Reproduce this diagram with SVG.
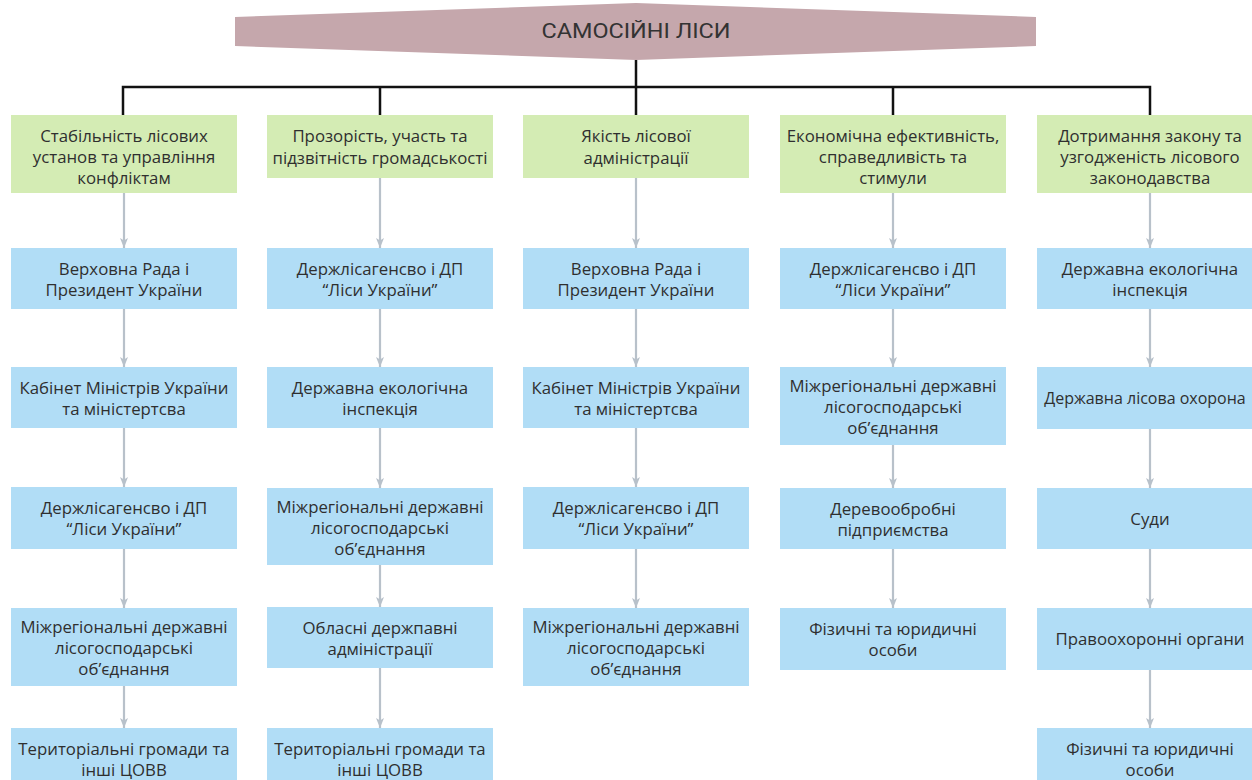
<svg xmlns="http://www.w3.org/2000/svg" width="1252" height="780" viewBox="0 0 1252 780">
<style>
.t{font-family:"Open Sans","DejaVu Sans",sans-serif;font-size:16.8px;fill:#2f2f2f;text-anchor:middle;dominant-baseline:central}
.g{fill:#d4ecb4}
.b{fill:#b1ddf6}
.tree{stroke:#111;stroke-width:2.5;fill:none}
.arr line{stroke:#b8c1ca;stroke-width:2.2;marker-end:url(#ah)}
</style>
<defs>
<marker id="ah" viewBox="0 0 10 8" refX="10" refY="4" markerWidth="10" markerHeight="8" markerUnits="userSpaceOnUse" orient="auto">
<path d="M0,0 L10,4 L0,8 L2.5,4 Z" fill="#b8c1ca"/>
</marker>
</defs>
<rect width="1252" height="780" fill="#fff"/>
<g id="root">
<polygon points="235,17 636,3 1036,17 1036,46 636,60 235,46" fill="#c5a7ac"/>
<text x="636" y="31" style="font-family:Roboto,'Liberation Sans',sans-serif;font-size:21px;fill:#333;text-anchor:middle;dominant-baseline:central" textLength="189" lengthAdjust="spacingAndGlyphs">САМОСІЙНІ ЛІСИ</text>
</g>
<g id="connectors">
<path class="tree" d="M636,60 V87 M123,115 V87 H1150 V115 M380,87 V115 M636,87 V115 M893,87 V115"/>
<g class="arr">
<line x1="124" y1="193" x2="124" y2="248"/>
<line x1="124" y1="309" x2="124" y2="367"/>
<line x1="124" y1="428" x2="124" y2="487"/>
<line x1="124" y1="549" x2="124" y2="608"/>
<line x1="124" y1="686" x2="124" y2="728"/>
<line x1="380" y1="178" x2="380" y2="248"/>
<line x1="380" y1="309" x2="380" y2="367"/>
<line x1="380" y1="428" x2="380" y2="488"/>
<line x1="380" y1="565" x2="380" y2="607"/>
<line x1="380" y1="668" x2="380" y2="728"/>
<line x1="636" y1="178" x2="636" y2="248"/>
<line x1="636" y1="309" x2="636" y2="367"/>
<line x1="636" y1="428" x2="636" y2="487"/>
<line x1="636" y1="549" x2="636" y2="608"/>
<line x1="893" y1="193" x2="893" y2="248"/>
<line x1="893" y1="309" x2="893" y2="367"/>
<line x1="893" y1="445" x2="893" y2="488"/>
<line x1="893" y1="549" x2="893" y2="608"/>
<line x1="1150" y1="193" x2="1150" y2="248"/>
<line x1="1150" y1="309" x2="1150" y2="367"/>
<line x1="1150" y1="429" x2="1150" y2="488"/>
<line x1="1150" y1="549" x2="1150" y2="608"/>
<line x1="1150" y1="670" x2="1150" y2="728"/>
</g>
</g>
<g id="h1"><rect class="g" x="11" y="115" width="226" height="78"/><text class="t"><tspan x="124" y="135">Стабільність лісових</tspan><tspan x="124" y="156">установ та управління</tspan><tspan x="124" y="177">конфліктам</tspan></text></g>
<g id="h2"><rect class="g" x="267" y="115" width="226" height="63"/><text class="t"><tspan x="380" y="135">Прозорість, участь та</tspan><tspan x="380" y="157">підзвітність громадськості</tspan></text></g>
<g id="h3"><rect class="g" x="523" y="115" width="226" height="63"/><text class="t"><tspan x="636" y="135">Якість лісової</tspan><tspan x="636" y="157">адміністрації</tspan></text></g>
<g id="h4"><rect class="g" x="780" y="115" width="226" height="78"/><text class="t"><tspan x="893" y="135">Економічна ефективність,</tspan><tspan x="893" y="156">справедливість та</tspan><tspan x="893" y="177">стимули</tspan></text></g>
<g id="h5"><rect class="g" x="1037" y="115" width="226" height="78"/><text class="t"><tspan x="1150" y="135">Дотримання закону та</tspan><tspan x="1150" y="156">узгодженість лісового</tspan><tspan x="1150" y="177">законодавства</tspan></text></g>

<g id="c1r1"><rect class="b" x="11" y="248" width="226" height="61"/><text class="t"><tspan x="124" y="268">Верховна Рада і</tspan><tspan x="124" y="289">Президент України</tspan></text></g>
<g id="c1r2"><rect class="b" x="11" y="367" width="226" height="61"/><text class="t"><tspan x="124" y="387">Кабінет Міністрів України</tspan><tspan x="124" y="408">та міністертсва</tspan></text></g>
<g id="c1r3"><rect class="b" x="11" y="487" width="226" height="62"/><text class="t"><tspan x="124" y="507">Держлісагенсво і ДП</tspan><tspan x="124" y="528">“Ліси України”</tspan></text></g>
<g id="c1r4"><rect class="b" x="11" y="608" width="226" height="78"/><text class="t"><tspan x="124" y="626">Міжрегіональні державні</tspan><tspan x="124" y="647">лісогосподарські</tspan><tspan x="124" y="668">об’єднання</tspan></text></g>
<g id="c1r5"><rect class="b" x="11" y="728" width="226" height="61"/><text class="t"><tspan x="124" y="748">Територіальні громади та</tspan><tspan x="124" y="769">інші ЦОВВ</tspan></text></g>

<g id="c2r1"><rect class="b" x="267" y="248" width="226" height="61"/><text class="t"><tspan x="380" y="268">Держлісагенсво і ДП</tspan><tspan x="380" y="289">“Ліси України”</tspan></text></g>
<g id="c2r2"><rect class="b" x="267" y="367" width="226" height="61"/><text class="t"><tspan x="380" y="387">Державна екологічна</tspan><tspan x="380" y="408">інспекція</tspan></text></g>
<g id="c2r3"><rect class="b" x="267" y="488" width="226" height="77"/><text class="t"><tspan x="380" y="506">Міжрегіональні державні</tspan><tspan x="380" y="527">лісогосподарські</tspan><tspan x="380" y="548">об’єднання</tspan></text></g>
<g id="c2r4"><rect class="b" x="267" y="607" width="226" height="61"/><text class="t"><tspan x="380" y="627">Обласні держпавні</tspan><tspan x="380" y="648">адміністрації</tspan></text></g>
<g id="c2r5"><rect class="b" x="267" y="728" width="226" height="61"/><text class="t"><tspan x="380" y="748">Територіальні громади та</tspan><tspan x="380" y="769">інші ЦОВВ</tspan></text></g>

<g id="c3r1"><rect class="b" x="523" y="248" width="226" height="61"/><text class="t"><tspan x="636" y="268">Верховна Рада і</tspan><tspan x="636" y="289">Президент України</tspan></text></g>
<g id="c3r2"><rect class="b" x="523" y="367" width="226" height="61"/><text class="t"><tspan x="636" y="387">Кабінет Міністрів України</tspan><tspan x="636" y="408">та міністертсва</tspan></text></g>
<g id="c3r3"><rect class="b" x="523" y="487" width="226" height="62"/><text class="t"><tspan x="636" y="507">Держлісагенсво і ДП</tspan><tspan x="636" y="528">“Ліси України”</tspan></text></g>
<g id="c3r4"><rect class="b" x="523" y="608" width="226" height="78"/><text class="t"><tspan x="636" y="626">Міжрегіональні державні</tspan><tspan x="636" y="647">лісогосподарські</tspan><tspan x="636" y="668">об’єднання</tspan></text></g>

<g id="c4r1"><rect class="b" x="780" y="248" width="226" height="61"/><text class="t"><tspan x="893" y="268">Держлісагенсво і ДП</tspan><tspan x="893" y="289">“Ліси України”</tspan></text></g>
<g id="c4r2"><rect class="b" x="780" y="367" width="226" height="78"/><text class="t"><tspan x="893" y="385">Міжрегіональні державні</tspan><tspan x="893" y="406">лісогосподарські</tspan><tspan x="893" y="427">об’єднання</tspan></text></g>
<g id="c4r3"><rect class="b" x="780" y="488" width="226" height="61"/><text class="t"><tspan x="893" y="508">Деревообробні</tspan><tspan x="893" y="529">підприємства</tspan></text></g>
<g id="c4r4"><rect class="b" x="780" y="608" width="226" height="62"/><text class="t"><tspan x="893" y="628">Фізичні та юридичні</tspan><tspan x="893" y="649">особи</tspan></text></g>

<g id="c5r1"><rect class="b" x="1037" y="248" width="226" height="61"/><text class="t"><tspan x="1150" y="268">Державна екологічна</tspan><tspan x="1150" y="289">інспекція</tspan></text></g>
<g id="c5r2"><rect class="b" x="1037" y="367" width="226" height="62"/><text class="t" x="1145" y="398" style="font-size:16px">Державна лісова охорона</text></g>
<g id="c5r3"><rect class="b" x="1037" y="488" width="226" height="61"/><text class="t" x="1150" y="518">Суди</text></g>
<g id="c5r4"><rect class="b" x="1037" y="608" width="226" height="62"/><text class="t" x="1150" y="638">Правоохоронні органи</text></g>
<g id="c5r5"><rect class="b" x="1037" y="728" width="226" height="61"/><text class="t"><tspan x="1150" y="748">Фізичні та юридичні</tspan><tspan x="1150" y="769">особи</tspan></text></g>
</svg>
